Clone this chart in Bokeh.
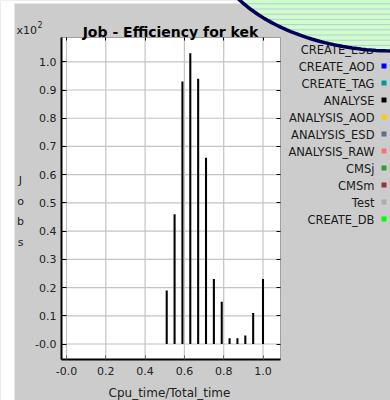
import numpy as np
from bokeh.plotting import figure
from bokeh.models import (Range1d, FixedTicker, LinearAxis, CustomJSTickFormatter,
                          Label, BoxAnnotation)
from bokeh.embed import file_html
from bokeh.resources import INLINE

# ---------------- data ----------------
efficiency = [0.51, 0.55, 0.59, 0.63, 0.67, 0.71, 0.75, 0.79, 0.83, 0.87, 0.91, 0.95, 1.00]
jobs = [19, 46, 93, 103, 94, 66, 23, 15, 2, 2, 3, 11, 23]
x_ticks = [0.0, 0.2, 0.4, 0.6, 0.8, 1.0]
y_ticks = [0, 10, 20, 30, 40, 50, 60, 70, 80, 90, 100]
legend_names = ["CREATE_ESD", "CREATE_AOD", "CREATE_TAG", "ANALYSE", "ANALYSIS_AOD",
                "ANALYSIS_ESD", "ANALYSIS_RAW", "CMSj", "CMSm", "Test", "CREATE_DB"]
legend_colors = ["#ff0000", "#0000ff", "#009999", "#000000", "#ffcc00",
                 "#5b7090", "#ff7070", "#339933", "#993333", "#aaaaaa", "#00ff00"]
title_text = "Job - Efficiency for kek"
x_label = "Cpu_time/Total_time"
y_label = "Jobs"

# ---------------- layout constants (page pixels) ----------------
W, H = 390, 400
FONT = "DejaVu Sans"
GRAY = "#cccccc"
TXT = "#222222"
PX0, PXS = 66.0, 196.5      # page x of efficiency 0, pixels per unit
PY0, PYS = 343.5, 2.822     # page y of 0 jobs, pixels per job


def dx(px):
    return (np.asarray(px, dtype=float) - PX0) / PXS


def dy(py):
    return (PY0 - np.asarray(py, dtype=float)) / PYS


X_LO, X_HI = float(dx(61)), float(dx(280))
Y_LO, Y_HI = float(dy(359)), float(dy(37))

p = figure(width=W, height=H, output_backend="svg", toolbar_location=None,
           x_range=Range1d(float(dx(0)), float(dx(W))), y_range=Range1d(float(dy(H)), float(dy(0))),
           x_axis_type=None, y_axis_type=None, min_border=0,
           min_border_left=0, min_border_right=0, min_border_top=0, min_border_bottom=0,
           background_fill_color=GRAY, border_fill_color=GRAY, outline_line_color=None)

# white page strips (left and top)
p.add_layout(BoxAnnotation(left=float(dx(0)), right=float(dx(14)), bottom=float(dy(H)), top=float(dy(0)),
                           fill_color="white", fill_alpha=1, line_color=None, level="underlay"))
p.add_layout(BoxAnnotation(left=float(dx(0)), right=float(dx(W)), bottom=float(dy(3)), top=float(dy(0)),
                           fill_color="white", fill_alpha=1, line_color=None, level="underlay"))
# plot area
p.add_layout(BoxAnnotation(left=X_LO, right=X_HI, bottom=Y_LO, top=Y_HI,
                           fill_color="white", fill_alpha=1, line_color=None, level="underlay"))

# grid lines
GRID = "#c4c4c4"
p.segment(x0=x_ticks, x1=x_ticks, y0=[Y_LO] * len(x_ticks), y1=[Y_HI] * len(x_ticks),
          line_color=GRID, line_width=1.2)
p.segment(x0=[X_LO] * len(y_ticks), x1=[X_HI] * len(y_ticks), y0=y_ticks, y1=y_ticks,
          line_color=GRID, line_width=1.2)

# bars
p.vbar(x=efficiency, top=jobs, bottom=0, width=0.0105, fill_color="black", line_color=None)

# plot-area outline
p.add_layout(BoxAnnotation(left=X_LO, right=X_HI, bottom=Y_LO, top=Y_HI,
                           fill_color=None, line_color="black", line_width=1))

# axes
x_fmt = CustomJSTickFormatter(code="return Math.abs(tick) < 1e-9 ? '-0.0' : tick.toFixed(1);")
y_fmt = CustomJSTickFormatter(code="return tick === 0 ? '-0.0' : (tick/100).toFixed(1);")

xa = LinearAxis(ticker=FixedTicker(ticks=x_ticks), formatter=x_fmt, fixed_location=Y_LO,
                bounds=(X_LO, X_HI), axis_line_width=2, axis_line_color="black",
                major_tick_out=0, major_tick_in=4, major_tick_line_color="#666666",
                minor_tick_line_color=None, major_label_standoff=7,
                major_label_text_font=FONT, major_label_text_font_size="11px",
                major_label_text_color=TXT)
ya = LinearAxis(ticker=FixedTicker(ticks=y_ticks), formatter=y_fmt, fixed_location=X_LO,
                bounds=(Y_LO, Y_HI), axis_line_width=2, axis_line_color="black",
                major_tick_out=0, major_tick_in=5, major_tick_line_color="black",
                minor_tick_line_color=None, major_label_standoff=5,
                major_label_text_font=FONT, major_label_text_font_size="11px",
                major_label_text_color=TXT)
top_ax = LinearAxis(ticker=FixedTicker(ticks=x_ticks), fixed_location=Y_HI, bounds=(X_LO, X_HI),
                    axis_line_color=None, major_tick_out=0, major_tick_in=3,
                    major_tick_line_color="black", minor_tick_line_color=None,
                    major_label_text_color=None)
right_ax = LinearAxis(ticker=FixedTicker(ticks=y_ticks), fixed_location=X_HI, bounds=(Y_LO, Y_HI),
                      axis_line_color=None, major_tick_out=0, major_tick_in=4,
                      major_tick_line_color="black", minor_tick_line_color=None,
                      major_label_text_color=None)
p.add_layout(xa, "below")
p.add_layout(ya, "left")
p.add_layout(top_ax, "above")
p.add_layout(right_ax, "right")


def label(px, py, text, size="11px", align="left", baseline="alphabetic", **kw):
    p.add_layout(Label(x=float(dx(px)), y=float(dy(py)), text=text, text_align=align,
                       text_baseline=baseline, text_font=FONT, text_font_size=size,
                       text_color=kw.pop("color", TXT), **kw))


# title, axis labels, multiplier
label(170, 31.5, title_text, size="14px", align="center", text_font_style="bold", color="black")
label(169, 392.5, x_label, size="12px", align="center")
label(20, 211, "\n".join(y_label), size="11px", align="center", baseline="middle",
      text_line_height=1.6)
label(16, 30, "x10", size="11px")
label(37, 24, "2", size="8px")

# legend
for i, (name, col) in enumerate(zip(legend_names, legend_colors)):
    yc = 49 + 17 * i
    label(374, yc, name, size="11.5px", align="right", baseline="middle", color="#1a1a1a")
    p.add_layout(BoxAnnotation(left=float(dx(381)), right=float(dx(386)),
                               top=float(dy(yc - 3)), bottom=float(dy(yc + 2)),
                               fill_color=col, fill_alpha=1, line_color=None))

# decorative ellipse in the top-right corner (drawn above everything else)
cx, cy, rx, ry = 395.0, -60.0, 185.0, 110.5
t = np.linspace(0, 2 * np.pi, 241)
ex = cx + rx * np.cos(t)
ey = cy + ry * np.sin(t)
p.patch(x=list(dx(ex)), y=list(dy(ey)), fill_color="#ccffcc", fill_alpha=1,
        line_color=None, level="overlay")
sxs, sys_ = [], []
for k in range(12):
    yy = 3.3 + 5.2 * k
    if yy >= cy + ry - 1.5:
        break
    hw = rx * np.sqrt(1 - ((yy - cy) / ry) ** 2)
    x0, x1 = cx - hw, min(cx + hw, W + 2)
    sxs.append([float(dx(x0)), float(dx(x1))])
    sys_.append([float(dy(yy))] * 2)
p.multi_line(xs=sxs, ys=sys_, line_color="#c4c4d6", line_width=1, level="overlay")
p.line(x=list(dx(ex)), y=list(dy(ey)), line_color="#000055", line_width=3.5, level="overlay")

open("out.html", "w").write(file_html(p, INLINE))
